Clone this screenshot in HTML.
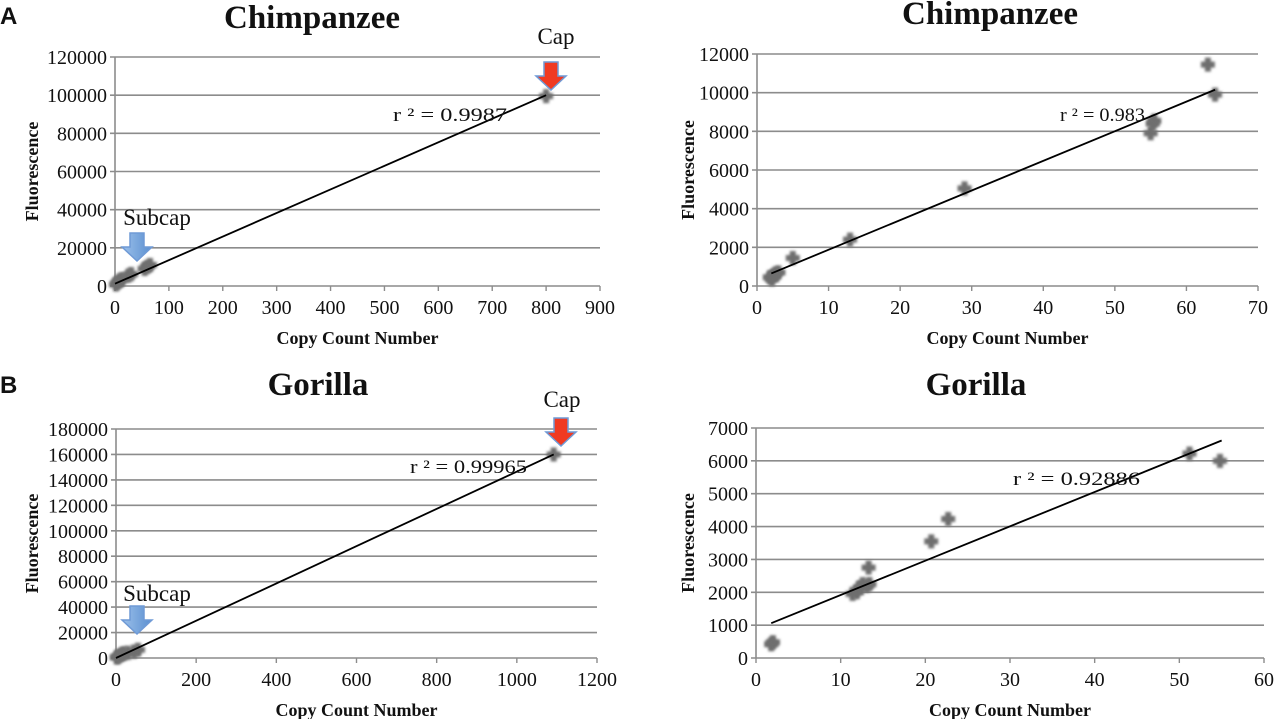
<!DOCTYPE html>
<html><head><meta charset="utf-8"><style>
body{margin:0;background:#fff;width:1280px;height:719px;overflow:hidden}
svg{display:block}
text{font-family:"Liberation Serif",serif;fill:#111}
</style></head><body>
<svg id="fig" width="1280" height="719" viewBox="0 0 1280 719">
<defs>
<filter id="blur" x="-50%" y="-50%" width="200%" height="200%"><feGaussianBlur stdDeviation="1.2"/></filter>
<linearGradient id="blueg" x1="0" x2="1"><stop offset="0" stop-color="#9cc0ea"/><stop offset="1" stop-color="#5a8fd0"/></linearGradient>
</defs>
</svg>
<script>
// Chart A-left (Chimpanzee full range)
const aLeftX=[2,5,8,12,25,30,55,60,65,800];
const aLeftY=[800,1800,2800,3500,5500,6200,9000,10000,11000,99500];
const aLeftXTicks=[0,100,200,300,400,500,600,700,800,900];
const aLeftYTicks=[0,20000,40000,60000,80000,100000,120000];
const aLeftTrend=[[0,1200],[800,100000]];
// Chart A-right (Chimpanzee subcap)
const aRightX=[1.8,2.1,2.3,2.6,3,5,13,29,55,55.3,55.5,63,64];
const aRightY=[450,350,550,650,700,1450,2400,5050,7900,8400,8550,11450,9900];
const aRightXTicks=[0,10,20,30,40,50,60,70];
const aRightYTicks=[0,2000,4000,6000,8000,10000,12000];
const aRightTrend=[[2,650],[64,10150]];
// Chart B-left (Gorilla full range)
const bLeftX=[2,5,10,15,20,30,45,55,1092];
const bLeftY=[500,1000,2000,3000,3500,4000,5000,6500,160000];
const bLeftXTicks=[0,200,400,600,800,1000,1200];
const bLeftYTicks=[0,20000,40000,60000,80000,100000,120000,140000,160000,180000];
const bLeftTrend=[[0,0],[1092,160000]];
// Chart B-right (Gorilla subcap)
const bRightX=[1.8,2.0,11.4,11.9,12.3,12.6,13.1,13.4,13.3,20.7,22.7,51.2,54.8];
const bRightY=[420,480,1950,2000,2150,2250,2200,2250,2750,3550,4230,6220,6000];
const bRightXTicks=[0,10,20,30,40,50,60];
const bRightYTicks=[0,1000,2000,3000,4000,5000,6000,7000];
const bRightTrend=[[1.8,1060],[55,6620]];

const NS='http://www.w3.org/2000/svg';
const svg=document.getElementById('fig');
function mk(tag,attrs,parent,txt){const e=document.createElementNS(NS,tag);for(const k in attrs)e.setAttribute(k,attrs[k]);if(txt!==undefined)e.textContent=txt;(parent||svg).appendChild(e);return e;}

function chart(id,c,xs,ys,xt,yt,trend){
  const g=mk('g',{});
  
  
  const xmax=xt[xt.length-1],ymax=yt[yt.length-1];
  const X=v=>c.x0+(c.x1-c.x0)*v/xmax;
  const Y=v=>c.y0-(c.y0-c.y1)*v/ymax;
  yt.forEach(v=>{
    const l=mk('line',{x1:c.x0-5,x2:c.x1,y1:Y(v),y2:Y(v),stroke:'#8c8c8c','stroke-width':1.6},g);
    
    
    const t=mk('text',{x:c.x0-8,y:Y(v)+7,'text-anchor':'end','font-size':20},g,String(v));
    
    
  });
  mk('line',{x1:c.x0,x2:c.x0,y1:c.y1,y2:c.y0,stroke:'#8c8c8c','stroke-width':1.6},g);
  xt.forEach(v=>{
    mk('line',{x1:X(v),x2:X(v),y1:c.y0,y2:c.y0+5,stroke:'#8c8c8c','stroke-width':1.4},g);
    const t=mk('text',{x:X(v),y:c.y0+28,'text-anchor':'middle','font-size':20},g,String(v));
    
    
  });
  xs.forEach((v,i)=>{
    const cx=X(v),cy=Y(ys[i]);
    const p=mk('path',{d:`M${cx-3} ${cy-7}h6v4h4v6h-4v4h-6v-4h-4v-6h4z`,fill:'#6e6e6e',filter:'url(#blur)'},g);
    
    
  });
  const tl=mk('line',{x1:X(trend[0][0]),y1:Y(trend[0][1]),x2:X(trend[1][0]),y2:Y(trend[1][1]),stroke:'#000','stroke-width':1.8},g);
  
  
  const r=mk('text',{x:c.rx,y:c.ry,'font-size':19,textLength:c.rw,lengthAdjust:'spacingAndGlyphs'},g,c.r2);
  
  
  const tt=mk('text',{x:c.tx,y:c.ty,'text-anchor':'middle','font-size':33,'font-weight':'bold'},g,c.title);
  
  
  const xa=mk('text',{x:(c.x0+c.x1)/2,y:c.y0+58,'text-anchor':'middle','font-size':18,'font-weight':'bold'},g,'Copy Count Number');
  
  
  const ya=mk('text',{x:0,y:0,'text-anchor':'middle','font-size':18,'font-weight':'bold',transform:`translate(${c.yax},${(c.y0+c.y1)/2}) rotate(-90)`},g,'Fluorescence');
  
  
  return {X,Y};
}
function arrow(name,x,y,fill){
  const p=mk('path',{d:`M${x-7} ${y}h14v14h8l-15 14l-15-14h8z`,fill:fill,stroke:'#6f9ad6','stroke-width':1.5});
  
  
}
function label(name,x,y,s,txt){
  const t=mk('text',{x:x,y:y,'text-anchor':'middle','font-size':s},svg,txt);
  
  
}

chart('chart-chimp-full',{x0:115,x1:600,y0:286,y1:57,rx:393,ry:121,rw:114,r2:'r ² = 0.9987',tx:312,ty:28,title:'Chimpanzee',yax:38},aLeftX,aLeftY,aLeftXTicks,aLeftYTicks,aLeftTrend);
chart('chart-chimp-subcap',{x0:757,x1:1258,y0:286,y1:54,rx:1060,ry:121,rw:85,r2:'r ² = 0.983',tx:990,ty:24,title:'Chimpanzee',yax:694},aRightX,aRightY,aRightXTicks,aRightYTicks,aRightTrend);
chart('chart-gorilla-full',{x0:116,x1:597,y0:658,y1:429,rx:410,ry:473,rw:117,r2:'r ² = 0.99965',tx:318,ty:395,title:'Gorilla',yax:38},bLeftX,bLeftY,bLeftXTicks,bLeftYTicks,bLeftTrend);
chart('chart-gorilla-subcap',{x0:756,x1:1264,y0:658,y1:428,rx:1013,ry:485,rw:127,r2:'r ² = 0.92886',tx:976,ty:395,title:'Gorilla',yax:694},bRightX,bRightY,bRightXTicks,bRightYTicks,bRightTrend);

arrow('cap-arrow-a',551,62,'#f03a22');
arrow('subcap-arrow-a',137,233,'url(#blueg)');
arrow('cap-arrow-b',561,418,'#f03a22');
arrow('subcap-arrow-b',137,606,'url(#blueg)');
label('cap-label-a',556,44,23,'Cap');
label('subcap-label-a',157,225,23,'Subcap');
label('cap-label-b',562,407,23,'Cap');
label('subcap-label-b',157,601,23,'Subcap');
const pa=mk('text',{x:0,y:24,'font-size':24,'font-weight':'bold',style:'font-family:"Liberation Sans",sans-serif'},svg,'A');


const pb=mk('text',{x:0,y:393,'font-size':24,'font-weight':'bold',style:'font-family:"Liberation Sans",sans-serif'},svg,'B');


</script>
</body></html>
